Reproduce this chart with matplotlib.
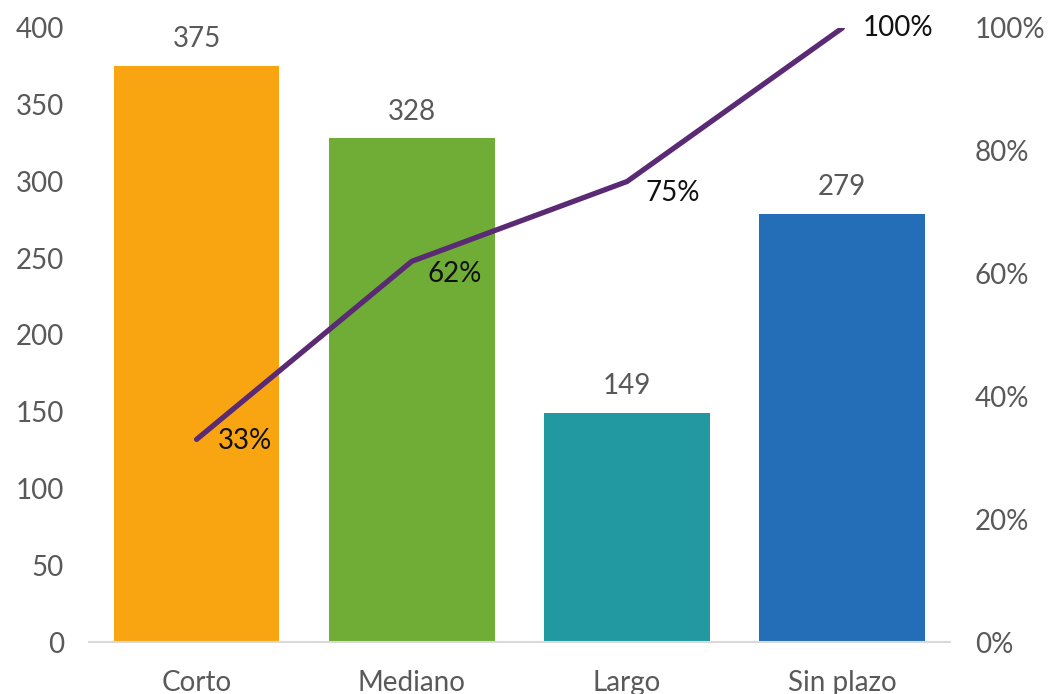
import matplotlib.pyplot as plt

categories = ['Corto', 'Mediano', 'Largo', 'Sin plazo']
counts = [375, 328, 149, 279]
cum_pct = [33, 62, 75, 100]
colors = ['#F9A512', '#70AD37', '#2299A0', '#246DB7']

plt.rcParams['font.family'] = ['Lato', 'DejaVu Sans']

fig = plt.figure(figsize=(10.49, 6.94), dpi=100)
ax = fig.add_axes([0.0848, 0.0749, 0.8208, 0.8848])
x = range(len(categories))
bars = ax.bar(x, counts, width=0.77, color=colors)
ax.set_ylim(0, 400)
ax.set_xlim(-0.5, 3.5)
ax.set_yticks(range(0, 401, 50))
ax.set_xticks(list(x))
ax.set_xticklabels(categories)
ax.tick_params(length=0, labelsize=20, labelcolor='#595959', pad=18)
ax.tick_params(axis='x', pad=20)
for s in ['top', 'left', 'right']:
    ax.spines[s].set_visible(False)
ax.spines['bottom'].set_color('#D9D9D9')
ax.spines['bottom'].set_linewidth(1.5)
for i, v in enumerate(counts):
    ax.annotate(str(v), (i, v), textcoords='offset points', xytext=(0, 10),
                ha='center', va='bottom', fontsize=20, color='#595959')

ax2 = ax.twinx()
ax2.plot(list(x), cum_pct, color='#5A2A74', linewidth=3.8, solid_capstyle='round')
ax2.set_ylim(0, 100)
ax2.set_yticks(range(0, 101, 20))
ax2.set_yticklabels([f'{t}%' for t in range(0, 101, 20)])
ax2.tick_params(length=0, labelsize=20, labelcolor='#595959', pad=18)
for s in ['top', 'left', 'right', 'bottom']:
    ax2.spines[s].set_visible(False)
offsets = [(15, -1), (11, -9), (13, -8), (15, 0)]
for i, v in enumerate(cum_pct):
    ax2.annotate(f'{v}%', (i, v), textcoords='offset points', xytext=offsets[i],
                 ha='left', va='center', fontsize=20, color='#111111')

fig.savefig('out.png', dpi=100)
